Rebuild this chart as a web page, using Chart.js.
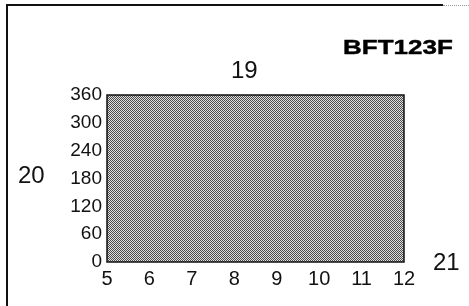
<!DOCTYPE html>
<html>
<head>
<meta charset="utf-8">
<script src="https://cdn.jsdelivr.net/npm/chart.js@4.4.1/dist/chart.umd.min.js"></script>
<style>
  html, body { margin:0; padding:0; background:#fff; }
  #wrap { position:relative; width:469px; height:306px; overflow:hidden; font-family:"Liberation Sans", Arial, sans-serif; }
  canvas { position:absolute; left:0; top:0; }
  .frame { position:absolute; left:6px; top:4px; width:435px; height:320px; border-left:2px solid #111; border-top:2px solid #111; }
  .frame2 { position:absolute; left:443px; top:5px; width:26px; height:0; border-top:1px dotted #999; }
  .lbl { position:absolute; font-size:24px; color:#111; line-height:1; white-space:nowrap; }
  #title { position:absolute; left:343px; top:37px; font-size:20px; font-weight:bold; color:#000; line-height:1; transform-origin:0 0; transform:scaleX(1.3); -webkit-text-stroke:0.4px #000; }
</style>
</head>
<body>
<div id="wrap">
  <div class="frame"></div>
  <div class="frame2"></div>
  <canvas id="c" width="469" height="306"></canvas>
  <div id="title">BFT123F</div>
  <div class="lbl" style="left:231px; top:58px;">19</div>
  <div class="lbl" style="left:18px; top:163px;">20</div>
  <div class="lbl" style="left:433px; top:250px;">21</div>
</div>
<script>
// Data
const xValues = [5, 6, 7, 8, 9, 10, 11, 12];
const yValues = [360, 360, 360, 360, 360, 360, 360, 360];
const xTicks = [5, 6, 7, 8, 9, 10, 11, 12];
const yTicks = [0, 60, 120, 180, 240, 300, 360];

// dithered fill pattern
const pc = document.createElement('canvas');
pc.width = 2; pc.height = 2;
const px = pc.getContext('2d');
px.fillStyle = '#e0e0e0'; px.fillRect(0,0,2,2);
px.fillStyle = '#4a4a4a'; px.fillRect(0,0,1,1); px.fillRect(1,1,1,1);
const ctx = document.getElementById('c').getContext('2d');
const pattern = ctx.createPattern(pc, 'repeat');

const frameBox = {
  id: 'frameBox',
  afterDatasetsDraw(chart) {
    const a = chart.chartArea, c = chart.ctx;
    c.save();
    c.strokeStyle = '#111';
    c.lineWidth = 1.5;
    c.strokeRect(a.left, a.top, a.right - a.left, a.bottom - a.top);
    c.restore();
  }
};

new Chart(ctx, {
  type: 'line',
  data: {
    datasets: [{
      data: xValues.map((x, i) => ({ x: x, y: yValues[i] })),
      borderWidth: 0,
      borderColor: 'rgba(0,0,0,0)',
      backgroundColor: pattern,
      fill: 'origin',
      pointRadius: 0,
      tension: 0
    }]
  },
  options: {
    responsive: false,
    animation: false,
    devicePixelRatio: 1,
    layout: { padding: { left: 0, top: 95, right: 65, bottom: 0 } },
    plugins: { legend: { display: false }, tooltip: { enabled: false } },
    scales: {
      x: {
        type: 'linear', min: 5, max: 12,
        afterBuildTicks: s => { s.ticks = xTicks.map(v => ({ value: v })); },
        afterFit: s => { s.height = 44; },
        grid: { display: false, drawTicks: false },
        border: { display: false },
        ticks: { color: '#111', padding: 5, font: { family: 'Liberation Sans', size: 20 }, maxRotation: 0, autoSkip: false }
      },
      y: {
        type: 'linear', min: 0, max: 360,
        afterBuildTicks: s => { s.ticks = yTicks.map(v => ({ value: v })); },
        afterFit: s => { s.width = 107; },
        grid: { display: false, drawTicks: false },
        border: { display: false },
        ticks: { color: '#111', padding: 5, font: { family: 'Liberation Sans', size: 19 }, autoSkip: false }
      }
    }
  },
  plugins: [frameBox]
});
</script>
</body>
</html>
